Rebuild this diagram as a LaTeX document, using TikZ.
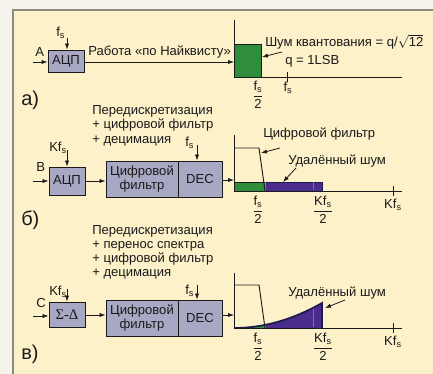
\documentclass[tikz,border=0pt]{standalone}
\usepackage{fontspec}
\setmainfont{Liberation Sans}
\newfontfamily\grserif{Liberation Serif}
\usetikzlibrary{arrows.meta}

\definecolor{paper}{HTML}{F5F3EC}
\definecolor{panel}{HTML}{FCF1C9}
\definecolor{frameline}{HTML}{8C8A80}
\definecolor{boxfill}{HTML}{A9A8C4}
\definecolor{ink}{HTML}{1A1A1A}
\definecolor{noisegreen}{HTML}{2F8E3C}
\definecolor{edgegreen}{HTML}{22C046}
\definecolor{noisepurple}{HTML}{4A2C8C}
\definecolor{navy}{HTML}{1E1A50}
\definecolor{pinkline}{HTML}{C0509A}

\newcommand{\fsub}{f\textsubscript{s}}
\newcommand{\Kfsub}{Kf\textsubscript{s}}
\newcommand{\frc}[2]{$\displaystyle\frac{\mbox{#1}}{\mbox{#2}}$}

\tikzset{
  txt/.style={inner sep=0pt, anchor=base west, text=ink},
  lbl/.style={inner sep=0pt, text=ink},
  panelmark/.style={inner sep=0pt, anchor=base west, text=ink, font=\fontsize{15}{16}\selectfont},
  blk/.style={draw=ink, fill=boxfill, line width=0.7pt, inner sep=0pt, text=ink, align=center,
              font=\fontsize{9.8}{10.5}\selectfont},
  arr/.style={draw=ink, line width=0.6pt, -{Latex[length=4.5pt,width=3.2pt]}},
  axisline/.style={draw=ink, line width=0.7pt},
}

\begin{document}
\begin{tikzpicture}[x=0.75pt, y=-0.75pt, font=\fontsize{9.8}{11}\selectfont]
  \useasboundingbox (0,0) rectangle (433,374);
  % page and panel background
  \fill[paper] (0,0) rectangle (433,374);
  \fill[panel] (13,10) rectangle (433,374);
  \draw[frameline, line width=1.2pt] (13,374) -- (13,10) -- (433,10);

  % ================= panel a =================
  \node[blk, minimum width=27pt, minimum height=16.5pt] (adcA) at (66,61) {АЦП};
  \coordinate (inA) at (33,62);
  \draw[arr] (inA) -- (inA -| adcA.west);
  \node[txt] (labA) at (35,57) {A};
  \coordinate (fsA) at (67,38);
  \draw[arr] (fsA) -- (fsA |- adcA.north);
  \node[txt] (fsAl) at (56,37) {\fsub};
  \coordinate (oA) at (234,77);
  \coordinate (topA) at (234,20);
  \coordinate (endA) at (402,77);
  \draw[arr] (adcA.east |- 0,62) -- (oA |- 0,62);
  \node[txt] (nyq) at (88,56) {Работа «по Найквисту»};
  % quantisation noise block
  \filldraw[fill=noisegreen, draw=ink, line width=0.7pt] (234,44) rectangle (261,77);
  \draw[axisline] (topA) -- (oA) -- (endA);
  \coordinate (tkA) at (287,77);
  \draw[axisline] ([yshift=-4]tkA) -- ([yshift=4]tkA);
  \node[txt] (qn) at (265,47) {Шум квантования = q/$\sqrt{\mbox{12}}$};
  \node[txt] (lsb) at (285,65) {q = 1LSB};
  \coordinate (qnArr) at (282,52);
  \coordinate (qnTip) at (262,57);
  \draw[arr] (qnArr) -- (qnTip);
  \node[lbl, anchor=north] (halfA) at (258,81) {\frc{\fsub}{2}};
  \node[lbl, anchor=north] (fsTickA) at (288,82) {\fsub};
  \node[panelmark] (markA) at (21,106) {а)};

  % ================= panel b =================
  \node[txt] (tb1) at (92,115) {Передискретизация};
  \node[txt] (tb2) at (92,129) {+ цифровой фильтр};
  \node[txt] (tb3) at (92,144) {+ децимация};
  \node[blk, minimum width=27pt, minimum height=21pt] (adcB) at (67,181) {АЦП};
  \node[blk, minimum width=54pt, minimum height=27pt] (filtB) at (142,179) {Цифровой\\фильтр};
  \node[blk, minimum width=33pt, minimum height=27pt] (decB) at (200,179) {DEC};
  \coordinate (inB) at (33,181);
  \draw[arr] (inB) -- (inB -| adcB.west);
  \node[txt] (labB) at (36,172) {B};
  \coordinate (kfB) at (67,150);
  \draw[arr] (kfB) -- (kfB |- adcB.north);
  \node[txt] (kfBl) at (49,152) {\Kfsub};
  \draw[arr] (adcB.east) -- (adcB.east -| filtB.west);
  \coordinate (fsB) at (197,145);
  \draw[arr] (fsB) -- (fsB |- decB.north);
  \node[txt] (fsBl) at (185,147) {\fsub};
  \coordinate (oB) at (234,191);
  \draw[arr] (decB.east |- 0,180) -- (oB |- 0,180);
  % noise bands
  \filldraw[fill=noisegreen, draw=ink, line width=0.5pt] (234,182) rectangle (265,191);
  \filldraw[fill=noisepurple, draw=navy, line width=0.6pt] (265,182) rectangle (322,191);
  \draw[edgegreen, line width=0.8pt] (265.5,182) -- (265.5,191);
  \draw[pinkline, line width=0.5pt] (313,182.5) -- (313,190.5);
  % digital filter response
  \draw[ink, line width=0.7pt] (234,148) -- (259,148) -- (265,191);
  \draw[axisline] (234,135) -- (oB) -- (402,191);
  \coordinate (tkB) at (393,191);
  \draw[axisline] ([yshift=-4]tkB) -- ([yshift=4]tkB);
  \node[txt] (dfB) at (263,138) {Цифровой фильтр};
  \draw[arr] (280,148) -- (261,153);
  \node[txt] (rnB) at (288,165) {Удалённый шум};
  \draw[arr] (296,168) -- (283,182);
  \node[lbl, anchor=north] (halfB) at (258,196) {\frc{\fsub}{2}};
  \node[lbl, anchor=north] (kfhalfB) at (323,196) {\frc{\Kfsub}{2}};
  \node[lbl, anchor=north] (kfTickB) at (393,199) {\Kfsub};
  \node[panelmark] (markB) at (21,226) {б)};

  % ================= panel c =================
  \node[txt] (tc1) at (92,235) {Передискретизация};
  \node[txt] (tc2) at (92,249) {+ перенос спектра};
  \node[txt] (tc3) at (92,263) {+ цифровой фильтр};
  \node[txt] (tc4) at (92,277) {+ децимация};
  \node[blk, minimum width=27pt, minimum height=18.75pt] (sdC) at (67,314.5) {{\grserif\fontsize{11}{12}\selectfont Σ-Δ}};
  \node[blk, minimum width=54pt, minimum height=27pt] (filtC) at (142,318) {Цифровой\\фильтр};
  \node[blk, minimum width=33pt, minimum height=27pt] (decC) at (200,318) {DEC};
  \coordinate (inC) at (33,316);
  \draw[arr] (inC) -- (inC -| sdC.west);
  \node[txt] (labC) at (36,308) {C};
  \coordinate (kfC) at (67,289);
  \draw[arr] (kfC) -- (kfC |- sdC.north);
  \node[txt] (kfCl) at (49,296) {\Kfsub};
  \draw[arr] (sdC.east |- 0,315) -- (filtC.west |- 0,315);
  \coordinate (fsC) at (197,285);
  \draw[arr] (fsC) -- (fsC |- decC.north);
  \node[txt] (fsCl) at (185,295) {\fsub};
  \coordinate (oC) at (234,328);
  \draw[arr] (decC.east |- 0,315) -- (oC |- 0,315);
  % shaped noise under the rising curve
  \fill[noisepurple] (234,328) .. controls (263.3,328) and (292.7,319.7) .. (322,303) -- (322,328) -- cycle;
  \begin{scope}
    \clip (234,290) rectangle (265,329);
    \fill[noisegreen] (234,328) .. controls (263.3,328) and (292.7,319.7) .. (322,303) -- (322,328) -- cycle;
  \end{scope}
  \draw[edgegreen, line width=0.8pt] (265.5,325.5) -- (265.5,328);
  \draw[pinkline, line width=0.5pt] (313,308) -- (313,327.5);
  \draw[navy, line width=1.3pt] (234,328) .. controls (263.3,328) and (292.7,319.7) .. (322,303) -- (322,328);
  % digital filter response
  \draw[ink, line width=0.7pt] (234,285) -- (259,285) -- (265,328);
  \draw[axisline] (234,273) -- (oC) -- (402,328);
  \coordinate (tkC) at (393,328);
  \draw[axisline] ([yshift=-4]tkC) -- ([yshift=4]tkC);
  \node[txt] (rnC) at (288,297) {Удалённый шум};
  \draw[arr] (345,300) -- (325,308);
  \node[lbl, anchor=north] (halfC) at (258,333) {\frc{\fsub}{2}};
  \node[lbl, anchor=north] (kfhalfC) at (323,333) {\frc{\Kfsub}{2}};
  \node[lbl, anchor=north] (kfTickC) at (393,336) {\Kfsub};
  \node[panelmark] (markC) at (21,360) {в)};
\end{tikzpicture}
\end{document}
